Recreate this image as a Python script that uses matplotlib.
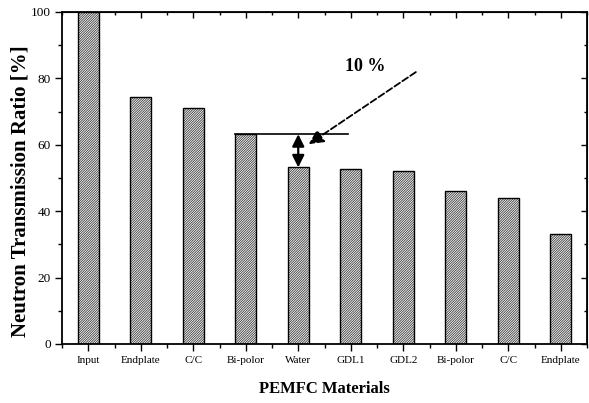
import matplotlib.pyplot as plt
from matplotlib.ticker import MultipleLocator

plt.rcParams['font.family'] = ['Liberation Serif', 'DejaVu Serif']
plt.rcParams['hatch.linewidth'] = 0.6

# Transmission ratio through the PEMFC layers
materials = ['Input', 'Endplate', 'C/C', 'Bi-polor', 'Water', 'GDL1', 'GDL2',
             'Bi-polor', 'C/C', 'Endplate']
ratio = [100.0, 74.5, 71.0, 63.2, 53.2, 52.6, 52.0, 46.2, 44.1, 33.0]

W, H = 589, 403
fig = plt.figure(figsize=(W / 100, H / 100), dpi=100)
ax = fig.add_axes([62 / W, 1 - 344 / H, 525 / W, 332 / H])

x = list(range(len(materials)))
# hatch in dark grey, outline in black on top
ax.bar(x, ratio, width=0.4, color='white', edgecolor='#3a3a3a', linewidth=0,
       hatch='/' * 14)
ax.bar(x, ratio, width=0.4, color='none', edgecolor='black', linewidth=1.0)

ax.set_xlim(-0.5, len(materials) - 0.5)
ax.set_ylim(0, 100)
ax.set_xticks(x)
ax.set_xticklabels(materials, fontsize=8)
ax.xaxis.set_minor_locator(MultipleLocator(1, offset=0.5))
ax.yaxis.set_major_locator(MultipleLocator(20))
ax.yaxis.set_minor_locator(MultipleLocator(10))
ax.tick_params(axis='y', labelsize=9.5, pad=3)
ax.tick_params(which='major', direction='out', length=5, width=1)
ax.tick_params(which='minor', direction='out', length=3, width=1)
for s in ax.spines.values():
    s.set_linewidth(1.3)

# inward ticks on the top and right frame
top = ax.secondary_xaxis('top')
top.set_xticks(x)
top.xaxis.set_minor_locator(MultipleLocator(1, offset=0.5))
top.tick_params(which='both', direction='in', labeltop=False, width=1)
top.tick_params(which='major', length=4)
top.tick_params(which='minor', length=2)
right = ax.secondary_yaxis('right')
right.yaxis.set_major_locator(MultipleLocator(20))
right.yaxis.set_minor_locator(MultipleLocator(10))
right.tick_params(which='both', direction='in', labelright=False, width=1)
right.tick_params(which='major', length=4)
right.tick_params(which='minor', length=2)

fig.text(21 / W, 1 - 191 / H, 'Neutron Transmission Ratio [%]', fontsize=15,
         fontweight='bold', rotation=90, ha='center', va='center')
fig.text(324.5 / W, 1 - 389 / H, 'PEMFC Materials', fontsize=12,
         fontweight='bold', ha='center', va='center')

# 10 % drop caused by the water layer
ax.plot([3 - 0.2, 4.95], [ratio[3], ratio[3]], color='black', lw=1.2)
ax.annotate('', xy=(4, ratio[4]), xytext=(4, ratio[3]),
            arrowprops=dict(arrowstyle='<|-|>', color='black', lw=1.6,
                            mutation_scale=18, shrinkA=0, shrinkB=0))
ax.annotate('', xy=(4.2, 60.2), xytext=(6.24, 81.9),
            arrowprops=dict(arrowstyle='-|>', color='black', lw=1.3,
                            linestyle='--', mutation_scale=22,
                            shrinkA=0, shrinkB=0))
ax.text(5.27, 83.5, '10 %', fontsize=13, fontweight='bold', ha='center',
        va='center')

fig.savefig('out.png', dpi=100)
